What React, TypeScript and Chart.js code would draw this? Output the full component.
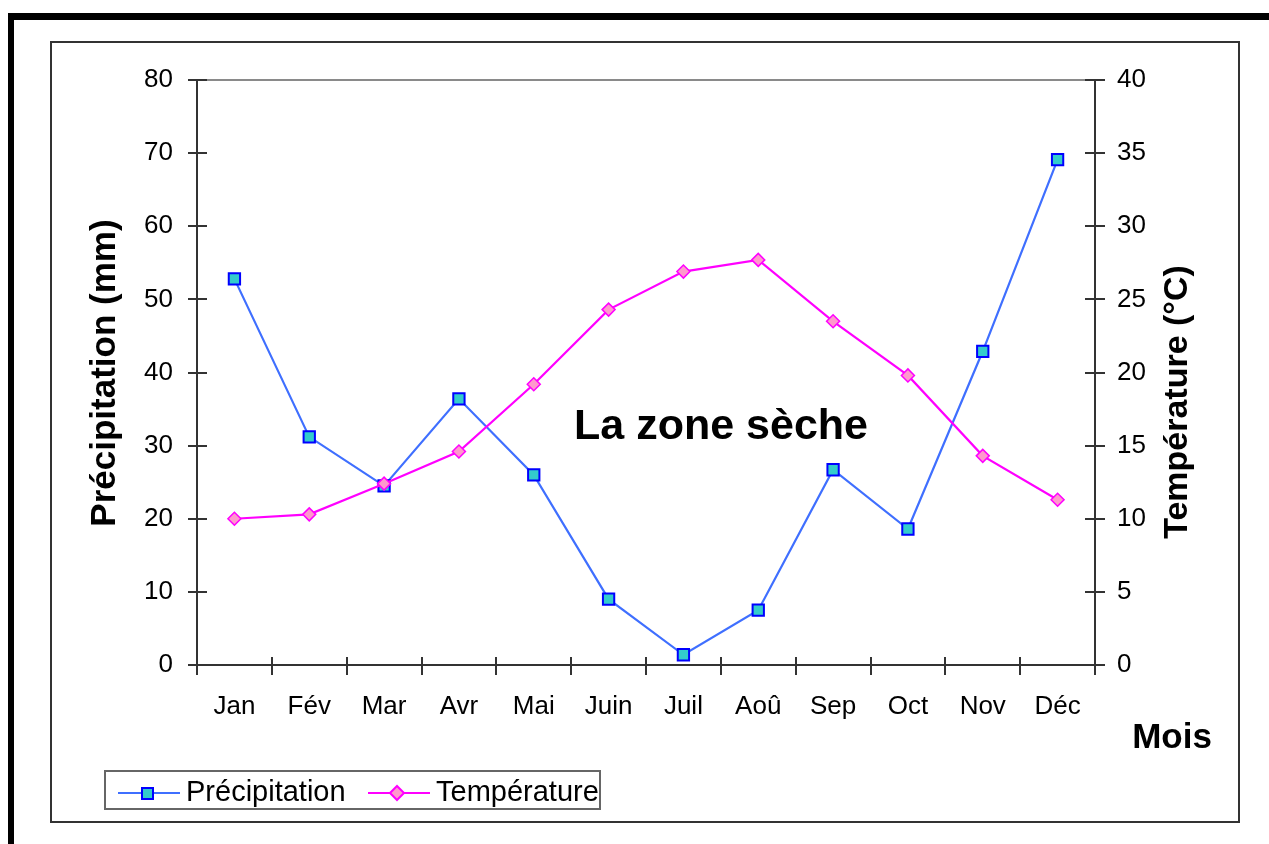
import React, { useEffect, useRef } from "react";
import { Chart, registerables } from "chart.js";

Chart.register(...registerables);

const months = ["Jan", "Fév", "Mar", "Avr", "Mai", "Juin", "Juil", "Aoû", "Sep", "Oct", "Nov", "Déc"];
const precipitation = [52.8, 31.2, 24.5, 36.4, 26.0, 9.0, 1.4, 7.5, 26.7, 18.6, 42.9, 69.1];
const temperature = [10.0, 10.3, 12.4, 14.6, 19.2, 24.3, 26.9, 27.7, 23.5, 19.8, 14.3, 11.3];
const leftTickValues = [0, 10, 20, 30, 40, 50, 60, 70, 80];
const rightTickValues = [0, 5, 10, 15, 20, 25, 30, 35, 40];

const FONT = "'Liberation Sans', Arial, sans-serif";
const AXIS_COLOR = "#333333";
const PRECIP_LINE = "#3F6FFF";
const PRECIP_FILL = "#33CCCC";
const PRECIP_BORDER = "#0000FF";
const TEMP_LINE = "#FF00FF";
const TEMP_FILL = "#FF99CC";

const decorPlugin = {
  id: "decor",
  beforeDraw(chart: any) {
    const ctx = chart.ctx;
    ctx.save();
    ctx.fillStyle = "#000";
    ctx.fillRect(8, 13, 6, 844);
    ctx.fillRect(8, 13, 1269, 7);
    ctx.strokeStyle = "#333";
    ctx.lineWidth = 2;
    ctx.strokeRect(51, 42, 1188, 780);
    ctx.restore();
  },
  afterDraw(chart: any) {
    const ctx = chart.ctx;
    const a = chart.chartArea;
    const y = chart.scales.y;
    const y1 = chart.scales.y1;
    ctx.save();
    ctx.strokeStyle = "#8a8a8a";
    ctx.lineWidth = 2;
    ctx.beginPath();
    ctx.moveTo(a.left, a.top);
    ctx.lineTo(a.right, a.top);
    ctx.stroke();
    ctx.strokeStyle = AXIS_COLOR;
    ctx.lineWidth = 2;
    ctx.beginPath();
    leftTickValues.forEach((v) => {
      const py = Math.round(y.getPixelForValue(v));
      ctx.moveTo(a.left - 9, py);
      ctx.lineTo(a.left + 10, py);
    });
    rightTickValues.forEach((v) => {
      const py = Math.round(y1.getPixelForValue(v));
      ctx.moveTo(a.right - 10, py);
      ctx.lineTo(a.right + 10, py);
    });
    for (let i = 0; i <= months.length; i++) {
      const px = Math.round(a.left + ((a.right - a.left) * i) / months.length);
      ctx.moveTo(px, a.bottom - 8);
      ctx.lineTo(px, a.bottom + 10);
    }
    ctx.stroke();

    ctx.fillStyle = "#000";
    ctx.font = `bold 35px ${FONT}`;
    ctx.textAlign = "center";
    ctx.textBaseline = "alphabetic";
    ctx.save();
    ctx.translate(115, 373);
    ctx.rotate(-Math.PI / 2);
    ctx.fillText("Précipitation (mm)", 0, 0);
    ctx.restore();
    ctx.save();
    ctx.font = `bold 34px ${FONT}`;
    ctx.translate(1187, 402);
    ctx.rotate(-Math.PI / 2);
    ctx.fillText("Température (°C)", 0, 0);
    ctx.restore();
    ctx.font = `bold 35px ${FONT}`;
    ctx.fillText("Mois", 1172, 748);
    ctx.font = `bold 43px ${FONT}`;
    ctx.fillText("La zone sèche", 721, 439);

    ctx.strokeStyle = "#666";
    ctx.lineWidth = 2;
    ctx.strokeRect(105, 771, 495, 38);
    const ly = 793;
    ctx.lineWidth = 2;
    ctx.strokeStyle = PRECIP_LINE;
    ctx.beginPath();
    ctx.moveTo(118, ly);
    ctx.lineTo(180, ly);
    ctx.stroke();
    ctx.fillStyle = PRECIP_FILL;
    ctx.strokeStyle = PRECIP_BORDER;
    ctx.fillRect(142, ly - 5, 11, 11);
    ctx.strokeRect(142, ly - 5, 11, 11);
    ctx.strokeStyle = TEMP_LINE;
    ctx.beginPath();
    ctx.moveTo(368, ly);
    ctx.lineTo(430, ly);
    ctx.stroke();
    ctx.fillStyle = TEMP_FILL;
    ctx.beginPath();
    ctx.moveTo(397 - 7, ly);
    ctx.lineTo(397, ly - 7);
    ctx.lineTo(397 + 7, ly);
    ctx.lineTo(397, ly + 7);
    ctx.closePath();
    ctx.fill();
    ctx.stroke();
    ctx.fillStyle = "#000";
    ctx.font = `29px ${FONT}`;
    ctx.textAlign = "left";
    ctx.fillText("Précipitation", 186, 801);
    ctx.fillText("Température", 436, 801);
    ctx.restore();
  },
};

export default function App() {
  const ref = useRef<HTMLCanvasElement | null>(null);
  useEffect(() => {
    if (!ref.current) return;
    const chart = new Chart(ref.current, {
      type: "line",
      data: {
        labels: months,
        datasets: [
          {
            label: "Précipitation",
            data: precipitation,
            yAxisID: "y",
            borderColor: PRECIP_LINE,
            borderWidth: 2.2,
            pointStyle: "rect",
            pointRadius: 8,
            pointBackgroundColor: PRECIP_FILL,
            pointBorderColor: PRECIP_BORDER,
            pointBorderWidth: 2,
            tension: 0,
            order: 1,
          },
          {
            label: "Température",
            data: temperature,
            yAxisID: "y1",
            borderColor: TEMP_LINE,
            borderWidth: 2.2,
            pointStyle: "rectRot",
            pointRadius: 6.5,
            pointBackgroundColor: TEMP_FILL,
            pointBorderColor: TEMP_LINE,
            pointBorderWidth: 1.5,
            tension: 0,
            order: 0,
          },
        ],
      },
      options: {
        responsive: false,
        animation: false,
        devicePixelRatio: 1,
        layout: { padding: { top: 80, left: 0, right: 0, bottom: 0 } },
        plugins: { legend: { display: false }, tooltip: { enabled: false } },
        scales: {
          x: {
            type: "category",
            offset: true,
            grid: { display: false, drawTicks: false, offset: true },
            border: { display: true, color: AXIS_COLOR, width: 2 },
            ticks: {
              color: "#000",
              font: { family: FONT, size: 26 },
              padding: 26,
              maxRotation: 0,
              autoSkip: false,
            },
            afterFit: (s: any) => {
              s.height = 179;
            },
          },
          y: {
            position: "left",
            min: 0,
            max: 80,
            grid: { display: false, drawTicks: false },
            border: { display: true, color: AXIS_COLOR, width: 2 },
            ticks: {
              stepSize: 10,
              color: "#000",
              font: { family: FONT, size: 26 },
              padding: 24,
            },
            afterFit: (s: any) => {
              s.width = 197;
            },
          },
          y1: {
            position: "right",
            min: 0,
            max: 40,
            grid: { display: false, drawTicks: false, drawOnChartArea: false },
            border: { display: true, color: AXIS_COLOR, width: 2 },
            ticks: {
              stepSize: 5,
              color: "#000",
              font: { family: FONT, size: 26 },
              padding: 22,
            },
            afterFit: (s: any) => {
              s.width = 174;
            },
          },
        },
      },
      plugins: [decorPlugin],
    });
    return () => chart.destroy();
  }, []);
  return (
    <div style={{ position: "absolute", left: 0, top: 0, width: 1269, height: 844, background: "#fff" }}>
      <canvas ref={ref} width={1269} height={844} style={{ display: "block" }} />
    </div>
  );
}
